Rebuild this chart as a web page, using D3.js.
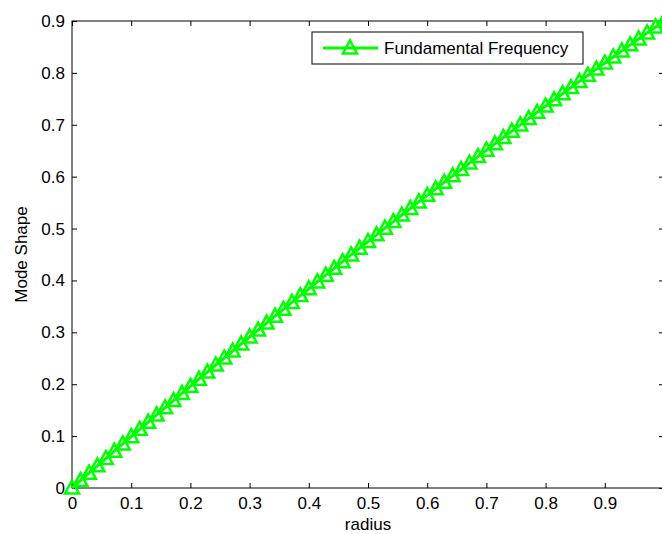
<!DOCTYPE html>
<html>
<head>
<meta charset="utf-8">
<script src="https://cdn.jsdelivr.net/npm/d3@7"></script>
<style>
  body { margin: 0; background: #fff; }
  svg { display: block; font-family: "Liberation Sans", Arial, sans-serif; }
</style>
</head>
<body>
<div id="chart"></div>
<script>
// radius values (x) and mode shape (y)
var radius = [0, 0.0143, 0.0286, 0.0429, 0.0571, 0.0714, 0.0857, 0.1, 0.1143, 0.1286,
  0.1429, 0.1571, 0.1714, 0.1857, 0.2, 0.2143, 0.2286, 0.2429, 0.2571, 0.2714,
  0.2857, 0.3, 0.3143, 0.3286, 0.3429, 0.3571, 0.3714, 0.3857, 0.4, 0.4143,
  0.4286, 0.4429, 0.4571, 0.4714, 0.4857, 0.5, 0.5143, 0.5286, 0.5429, 0.5571,
  0.5714, 0.5857, 0.6, 0.6143, 0.6286, 0.6429, 0.6571, 0.6714, 0.6857, 0.7,
  0.7143, 0.7286, 0.7429, 0.7571, 0.7714, 0.7857, 0.8, 0.8143, 0.8286, 0.8429,
  0.8571, 0.8714, 0.8857, 0.9, 0.9143, 0.9286, 0.9429, 0.9571, 0.9714, 0.9857, 1];
var modeShape = [0, 0.0143, 0.0285, 0.0427, 0.0568, 0.0709, 0.085, 0.099, 0.113, 0.1269,
  0.1409, 0.1546, 0.1685, 0.1823, 0.196, 0.2097, 0.2234, 0.237, 0.2505, 0.264,
  0.2775, 0.291, 0.3044, 0.3178, 0.3311, 0.3443, 0.3576, 0.3708, 0.384, 0.3971,
  0.4102, 0.4233, 0.4362, 0.4492, 0.4621, 0.475, 0.4879, 0.5007, 0.5134, 0.5261,
  0.5387, 0.5514, 0.564, 0.5766, 0.5891, 0.6016, 0.6139, 0.6263, 0.6387, 0.651,
  0.6633, 0.6755, 0.6877, 0.6998, 0.7119, 0.724, 0.736, 0.748, 0.7599, 0.7718,
  0.7836, 0.7955, 0.8073, 0.819, 0.8307, 0.8424, 0.854, 0.8655, 0.877, 0.8885, 0.9];

var xTicks = [0, 0.1, 0.2, 0.3, 0.4, 0.5, 0.6, 0.7, 0.8, 0.9];
var yTicks = [0, 0.1, 0.2, 0.3, 0.4, 0.5, 0.6, 0.7, 0.8, 0.9];
var seriesName = "Fundamental Frequency";

var svgWidth = 662;
var svgHeight = 534;

// plot box (right side runs past the window, like the picture)
var margin = { top: 21, left: 72, bottom: 46 };
var plotWidth = 592;
var plotHeight = svgHeight - margin.top - margin.bottom;

var svg = d3.select("#chart")
  .append("svg")
  .attr("width", svgWidth)
  .attr("height", svgHeight);

var g = svg.append("g")
  .attr("transform", `translate(${margin.left}, ${margin.top})`);

var x = d3.scaleLinear().domain([0, 1]).range([0, plotWidth]);
var y = d3.scaleLinear().domain([0, 0.9]).range([plotHeight, 0]);

// axes with inward ticks, MATLAB style
var fmt = d3.format("");
g.append("g")
  .attr("transform", `translate(0, ${plotHeight})`)
  .call(d3.axisBottom(x).tickValues(xTicks).tickSize(-5).tickPadding(9).tickFormat(fmt))
  .call(a => a.select(".domain").remove());

g.append("g")
  .call(d3.axisLeft(y).tickValues(yTicks).tickSize(-5).tickPadding(7).tickFormat(fmt))
  .call(a => a.select(".domain").remove());

g.append("g")
  .call(d3.axisTop(x).tickValues(xTicks).tickSize(-5).tickFormat(""))
  .call(a => a.select(".domain").remove());

g.append("g")
  .attr("transform", `translate(${plotWidth}, 0)`)
  .call(d3.axisRight(y).tickValues(yTicks).tickSize(-5).tickFormat(""))
  .call(a => a.select(".domain").remove());

g.selectAll(".tick text")
  .attr("font-size", "17px")
  .attr("font-family", "Liberation Sans, Arial, sans-serif")
  .attr("fill", "#000");
g.selectAll(".tick line").attr("stroke", "#000");

g.append("rect")
  .attr("width", plotWidth)
  .attr("height", plotHeight)
  .attr("fill", "none")
  .attr("stroke", "#000")
  .attr("stroke-width", 1);

// data
var data = radius.map((r, i) => ({ r: r, v: modeShape[i] }));

var line = d3.line()
  .x(d => x(d.r))
  .y(d => y(d.v));

g.append("path")
  .datum(data)
  .attr("d", line)
  .attr("fill", "none")
  .attr("stroke", "#00ff00")
  .attr("stroke-width", 3);

var tri = "M0,-7.5L7,5.5L-7,5.5Z";

g.selectAll(".marker")
  .data(data)
  .enter()
  .append("path")
  .attr("class", "marker")
  .attr("d", tri)
  .attr("transform", d => `translate(${x(d.r)}, ${y(d.v)})`)
  .attr("fill", "none")
  .attr("stroke", "#00ff00")
  .attr("stroke-width", 2.5);

// legend
var legend = svg.append("g").attr("transform", "translate(312, 32)");
legend.append("rect")
  .attr("width", 271)
  .attr("height", 32)
  .attr("fill", "#fff")
  .attr("stroke", "#000");
legend.append("line")
  .attr("x1", 11).attr("x2", 66)
  .attr("y1", 16).attr("y2", 16)
  .attr("stroke", "#00ff00")
  .attr("stroke-width", 3);
legend.append("path")
  .attr("d", tri)
  .attr("transform", "translate(38, 16)")
  .attr("fill", "none")
  .attr("stroke", "#00ff00")
  .attr("stroke-width", 2.5);
legend.append("text")
  .attr("x", 72)
  .attr("y", 22)
  .attr("font-size", "17px")
  .attr("fill", "#000")
  .text(seriesName);

// axis titles
svg.append("text")
  .attr("x", margin.left + x(0.5))
  .attr("y", 530)
  .attr("text-anchor", "middle")
  .attr("font-size", "17px")
  .attr("fill", "#000")
  .text("radius");

svg.append("text")
  .attr("transform", `translate(27, ${margin.top + plotHeight / 2}) rotate(-90)`)
  .attr("text-anchor", "middle")
  .attr("font-size", "17px")
  .attr("fill", "#000")
  .text("Mode Shape");
</script>
</body>
</html>
